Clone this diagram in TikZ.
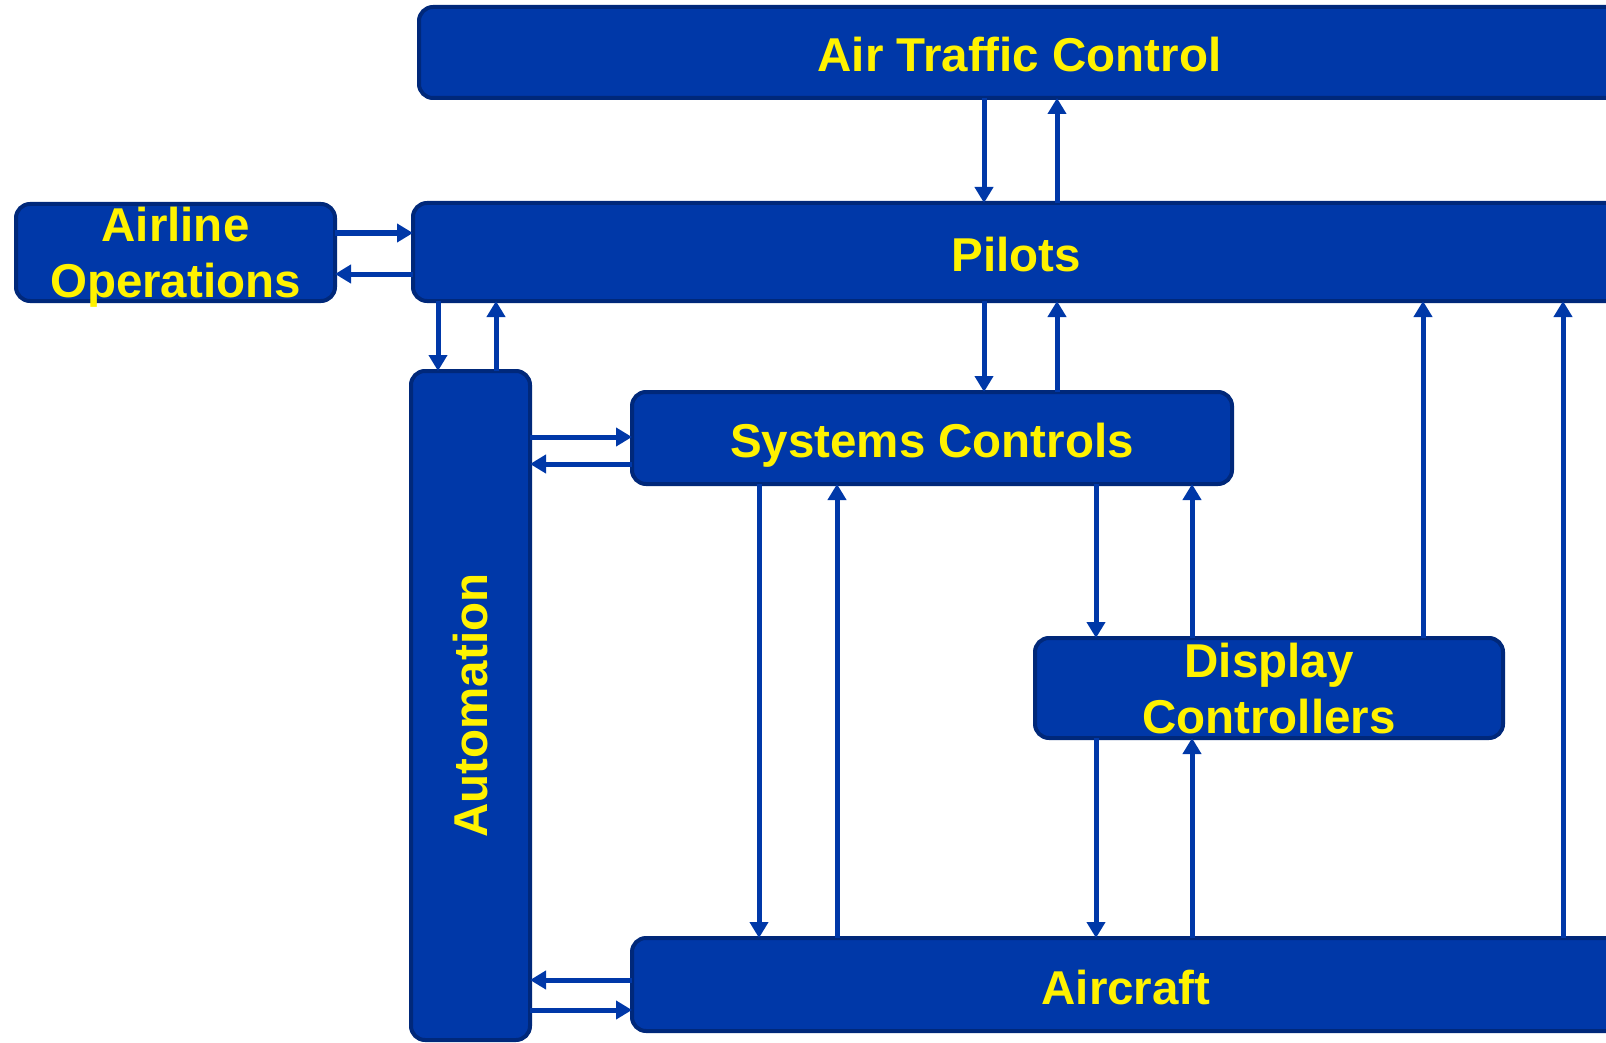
\documentclass[tikz,border=0pt]{standalone}
\usepackage{fontspec}
\setmainfont{Liberation Sans}
\usetikzlibrary{arrows.meta}
\definecolor{boxblue}{RGB}{0,56,168}
\definecolor{edgeblue}{RGB}{0,40,122}

\begin{document}
\begin{tikzpicture}[x=1pt, y=-1pt,
  box/.style={draw=edgeblue, fill=boxblue, line width=4pt, rounded corners=14pt,
              inner sep=0pt, outer sep=0pt, text=yellow, align=center, text depth=0pt,
              font=\bfseries\fontsize{47.5}{56}\selectfont},
  oneline/.style={text height=39pt},
  lbl/.style={text=yellow, font=\bfseries\fontsize{47.5}{56}\selectfont},
  arr/.style={-{Triangle[length=16pt, width=18pt]}, line width=5pt, boxblue}
]
  \useasboundingbox (0,0) rectangle (1606,1043);
  \clip (0,0) rectangle (1606,1043);

  \node[box, oneline, minimum width=1201pt, minimum height=91pt] (atc) at (1019.5,52.5) {Air Traffic Control};
  \node[box, oneline, minimum width=1207pt, minimum height=98pt] (pilots) at (1016.5,252) {Pilots};
  \node[box, minimum width=319pt, minimum height=97pt] (airline) at (175.5,252.5) {Airline\\Operations};
  \node[box, minimum width=119pt, minimum height=669pt] (auto) at (470.5,705.5) {};
  \node[lbl, rotate=90] (autotext) at (auto.center) {Automation};
  \node[box, oneline, minimum width=600pt, minimum height=92pt] (sys) at (932,438) {Systems Controls};
  \node[box, minimum width=468pt, minimum height=100pt] (disp) at (1269,688) {Display\\Controllers};
  \node[box, oneline, minimum width=988pt, minimum height=93pt] (aircraft) at (1126,984.5) {Aircraft};

  % columns and rows of the connectors
  \coordinate (xdown) at (984,0);
  \coordinate (xup) at (1057,0);
  \coordinate (xautodown) at (438,0);
  \coordinate (xautoup) at (496,0);
  \coordinate (xsysdown) at (759,0);
  \coordinate (xsysup) at (837,0);
  \coordinate (xdispdown) at (1096,0);
  \coordinate (xdispup) at (1192,0);
  \coordinate (xdisppil) at (1423,0);
  \coordinate (xairpil) at (1563,0);
  \coordinate (yairin) at (0,233);
  \coordinate (yairout) at (0,274);
  \coordinate (ysysin) at (0,437);
  \coordinate (ysysout) at (0,464);
  \coordinate (yacout) at (0,980);
  \coordinate (yacin) at (0,1010);

  \draw[arr] (xdown |- atc.south) -- (xdown |- pilots.north);
  \draw[arr] (xup |- pilots.north) -- (xup |- atc.south);

  \draw[arr] (yairin -| airline.east) -- (yairin -| pilots.west);
  \draw[arr] (yairout -| pilots.west) -- (yairout -| airline.east);

  \draw[arr] (xautodown |- pilots.south) -- (xautodown |- auto.north);
  \draw[arr] (xautoup |- auto.north) -- (xautoup |- pilots.south);

  \draw[arr] (xdown |- pilots.south) -- (xdown |- sys.north);
  \draw[arr] (xup |- sys.north) -- (xup |- pilots.south);

  \draw[arr] (ysysin -| auto.east) -- (ysysin -| sys.west);
  \draw[arr] (ysysout -| sys.west) -- (ysysout -| auto.east);

  \draw[arr] (xsysdown |- sys.south) -- (xsysdown |- aircraft.north);
  \draw[arr] (xsysup |- aircraft.north) -- (xsysup |- sys.south);

  \draw[arr] (xdispdown |- sys.south) -- (xdispdown |- disp.north);
  \draw[arr] (xdispup |- disp.north) -- (xdispup |- sys.south);

  \draw[arr] (xdispdown |- disp.south) -- (xdispdown |- aircraft.north);
  \draw[arr] (xdispup |- aircraft.north) -- (xdispup |- disp.south);

  \draw[arr] (xdisppil |- disp.north) -- (xdisppil |- pilots.south);
  \draw[arr] (xairpil |- aircraft.north) -- (xairpil |- pilots.south);

  \draw[arr] (yacout -| aircraft.west) -- (yacout -| auto.east);
  \draw[arr] (yacin -| auto.east) -- (yacin -| aircraft.west);
\end{tikzpicture}
\end{document}
